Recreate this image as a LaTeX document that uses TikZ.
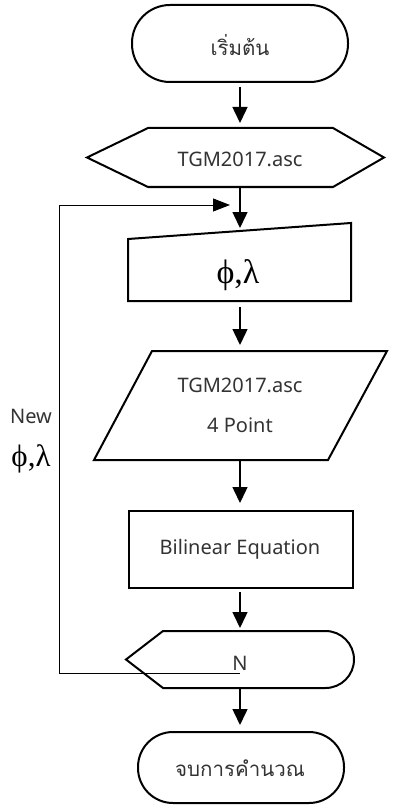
\documentclass[tikz,border=0pt]{standalone}
\usepackage{fontspec}
\setmainfont{Noto Sans}
\newfontfamily\thaifont[Script=Thai]{Loma}
\newfontfamily\grkfont{Liberation Serif}
\usetikzlibrary{arrows.meta}
\begin{document}
\begin{tikzpicture}[x=1pt,y=-1pt,
  shapeline/.style={line width=2pt, line join=miter},
  flow/.style={line width=1.5pt,-{Triangle[width=15pt,length=16pt]}},
  loopline/.style={line width=1pt},
  lbl/.style={font=\fontsize{20}{24}\selectfont, text=black!80, inner sep=0pt},
  thai/.style={font=\thaifont\fontsize{20.5}{24}\selectfont, text=black!80, inner sep=0pt},
  grk/.style={font=\grkfont\fontsize{34}{38}\selectfont, text=black, inner sep=0pt}]
\useasboundingbox (0,0) rectangle (394,805);
% shapes
\draw[shapeline, rounded corners=38pt] (132,5) rectangle (348,82);
\draw[shapeline] (87,157.5) -- (148,128) -- (333,128) -- (384,157.5) -- (333,187) -- (148,187) -- cycle;
\draw[shapeline] (128,239) -- (351,223) -- (351,301) -- (128,301) -- cycle;
\draw[shapeline] (152,351) -- (387,351) -- (328,460) -- (94,460) -- cycle;
\draw[shapeline] (129,511) rectangle (353,588);
\draw[shapeline] (126,659.5) -- (163,631) -- (325.5,631) arc[start angle=-90, end angle=90, radius=28.5] -- (163,688) -- cycle;
\draw[shapeline, rounded corners=35pt] (138,732) rectangle (344,803);
% texts
\node[thai] (start) at (240,45) {เริ่มต้น};
\node[lbl] (inp) at (240,159) {TGM2017.asc};
\node[grk] (man) at (238,275) {ϕ,λ};
\node[lbl] (dat1) at (240,385) {TGM2017.asc};
\node[lbl] (dat2) at (240,425) {4 Point};
\node[lbl] (proc) at (240,549) {Bilinear Equation};
\node[lbl] (disp) at (240,663) {N};
\node[thai] (stop) at (240,768) {จบการคำนวณ};
\node[lbl] (new) at (31,416) {New};
\node[grk, font=\grkfont\fontsize{31}{34}\selectfont] (newpl) at (31,459) {ϕ,λ};
% connector ends
\coordinate (a1s) at (240,87);  \coordinate (a1e) at (240,123);
\coordinate (a2s) at (240,187); \coordinate (a2e) at (240,228);
\coordinate (a3s) at (240,307); \coordinate (a3e) at (240,345);
\coordinate (a4s) at (240,460); \coordinate (a4e) at (240,503);
\coordinate (a5s) at (240,592); \coordinate (a5e) at (240,628);
\coordinate (a6s) at (240,688); \coordinate (a6e) at (240,725);
\coordinate (ls) at (240,673); \coordinate (lc) at (59,205); \coordinate (le) at (230,205);
\draw[flow] (a1s) -- (a1e);
\draw[flow] (a2s) -- (a2e);
\draw[flow] (a3s) -- (a3e);
\draw[flow] (a4s) -- (a4e);
\draw[flow] (a5s) -- (a5e);
\draw[flow] (a6s) -- (a6e);
\draw[loopline] (ls) -| (lc);
\draw[loopline, -{Triangle[width=13pt,length=17pt]}] (lc) -- (le);
\end{tikzpicture}
\end{document}
